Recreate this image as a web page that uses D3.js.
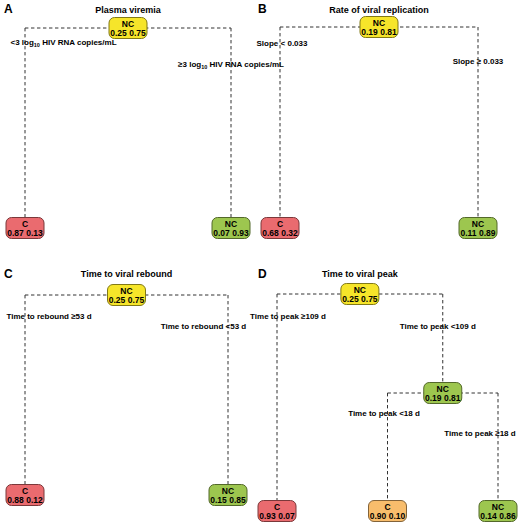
<!DOCTYPE html>
<html><head><meta charset="utf-8">
<script src="https://cdn.jsdelivr.net/npm/d3@7"></script>
<style>
body{margin:0;background:#fff}
text{font-family:"Liberation Sans",Arial,Helvetica,sans-serif;font-weight:bold;fill:#000}
</style>
</head><body>
<svg id="chart" width="520" height="525"></svg>
<script>
// ---------- data ----------
const panelLetters = ["A", "B", "C", "D"];
const panelTitles = ["Plasma viremia", "Rate of viral replication", "Time to viral rebound", "Time to viral peak"];

const treeA = {cls: "NC", prob: [0.25, 0.75], children: [
  {split: "<3 log_10 HIV RNA copies/mL", cls: "C", prob: [0.87, 0.13]},
  {split: "\u22653 log_10 HIV RNA copies/mL", cls: "NC", prob: [0.07, 0.93]}
]};
const treeB = {cls: "NC", prob: [0.19, 0.81], children: [
  {split: "Slope < 0.033", cls: "C", prob: [0.68, 0.32]},
  {split: "Slope \u2265 0.033", cls: "NC", prob: [0.11, 0.89]}
]};
const treeC = {cls: "NC", prob: [0.25, 0.75], children: [
  {split: "Time to rebound \u226553 d", cls: "C", prob: [0.88, 0.12]},
  {split: "Time to rebound <53 d", cls: "NC", prob: [0.15, 0.85]}
]};
const treeD = {cls: "NC", prob: [0.25, 0.75], children: [
  {split: "Time to peak \u2265109 d", cls: "C", prob: [0.93, 0.07]},
  {split: "Time to peak <109 d", cls: "NC", prob: [0.19, 0.81], children: [
    {split: "Time to peak <18 d", cls: "C", prob: [0.90, 0.10]},
    {split: "Time to peak \u226518 d", cls: "NC", prob: [0.14, 0.86]}
  ]}
]};
const trees = [treeA, treeB, treeC, treeD];

// ---------- styles / layout ----------
const palette = {root: "#f6e52a", C: "#ea6b6f", NC: "#9dc64f", C2: "#f8bd6c"};
const boxTones = [
  ["root", "C", "NC"],
  ["root", "C", "NC"],
  ["root", "C", "NC"],
  ["root", "C", "NC", "C2", "NC"]
];
const layout = [
  {leafX: [25, 231], levelY: [28, 228], letter: [4, 13], titleY: 12.5,
   labels: [[38.5, 17], [0, 39]]},
  {leafX: [280, 478], levelY: [27, 228], letter: [258, 13], titleY: 12.5,
   labels: [[2, 19], [0, 37]]},
  {leafX: [25, 228], levelY: [295, 495], letter: [4, 278], titleY: 276.5,
   labels: [[24, 24], [-24.5, 34]]},
  {leafX: [277, 498], levelY: [294, 393, 511], letter: [258, 278], titleY: 276.5,
   labels: [[11, 25], [-5, 35], [-3.5, 23], [-18, 43]]}
];
const boxW = 38, boxH = 21;

const svg = d3.select("#chart");
const fmt = d3.format(".2f");

function addLabel(sel, str) {
  const parts = str.split(/_(\d+)/);
  parts.forEach((p, i) => {
    if (i % 2 === 1) {
      sel.append("tspan").attr("font-size", 5.5).attr("dy", 2).text(p);
    } else if (p.length) {
      const t = sel.append("tspan").text(p);
      if (i > 0) t.attr("dy", -2);
    }
  });
}

trees.forEach((tree, pi) => {
  const L = layout[pi];
  const g = svg.append("g");
  const root = d3.hierarchy(tree);
  const leaves = root.leaves();
  const xLeaf = d3.scalePoint().domain(d3.range(leaves.length)).range(L.leafX);
  const yLevel = d3.scaleLinear().domain(d3.range(L.levelY.length)).range(L.levelY);
  const lastLevel = L.levelY.length - 1;
  leaves.forEach((d, i) => { d.x = xLeaf(i); d.y = yLevel(lastLevel); });
  root.eachAfter(d => {
    if (d.children) {
      d.x = d3.mean(d.children, c => c.x);
      d.y = yLevel(d.depth);
    }
  });

  // letter and title
  g.append("text").attr("x", L.letter[0]).attr("y", L.letter[1])
    .attr("font-size", 12).text(panelLetters[pi]);
  g.append("text").attr("x", root.x).attr("y", L.titleY)
    .attr("text-anchor", "middle").attr("font-size", 9).text(panelTitles[pi]);

  // branches
  const dash = {stroke: "#333", "stroke-width": 1, "stroke-dasharray": "3.4,2.6", fill: "none"};
  root.each(d => {
    if (!d.children) return;
    const xs = d3.extent(d.children, c => c.x);
    const h = g.append("line").attr("x1", xs[0]).attr("x2", xs[1]).attr("y1", d.y).attr("y2", d.y);
    Object.entries(dash).forEach(([k, v]) => h.attr(k, v));
    d.children.forEach(c => {
      const v = g.append("line").attr("x1", c.x).attr("x2", c.x)
        .attr("y1", d.y).attr("y2", c.y - boxH / 2);
      Object.entries(dash).forEach(([k, vv]) => v.attr(k, vv));
    });
  });

  // split labels
  const nonRoot = root.descendants().slice(1);
  nonRoot.forEach((c, i) => {
    const off = L.labels[i];
    const t = g.append("text").attr("x", c.x + off[0]).attr("y", c.parent.y + off[1])
      .attr("text-anchor", "middle").attr("font-size", 8);
    addLabel(t, c.data.split);
  });

  // boxes
  root.descendants().forEach((d, i) => {
    const fill = palette[boxTones[pi][i]];
    g.append("rect").attr("x", d.x - boxW / 2).attr("y", d.y - boxH / 2)
      .attr("width", boxW).attr("height", boxH).attr("rx", 5.5).attr("ry", 5.5)
      .attr("fill", fill).attr("stroke", d3.color(fill).darker(1.8)).attr("stroke-width", 1);
    g.append("text").attr("x", d.x).attr("y", d.y - 1.5).attr("text-anchor", "middle")
      .attr("font-size", 8.5).text(d.data.cls);
    g.append("text").attr("x", d.x).attr("y", d.y + 7.5).attr("text-anchor", "middle")
      .attr("font-size", 8.5).text(d.data.prob.map(fmt).join(" "));
  });
});
</script>
</body></html>
